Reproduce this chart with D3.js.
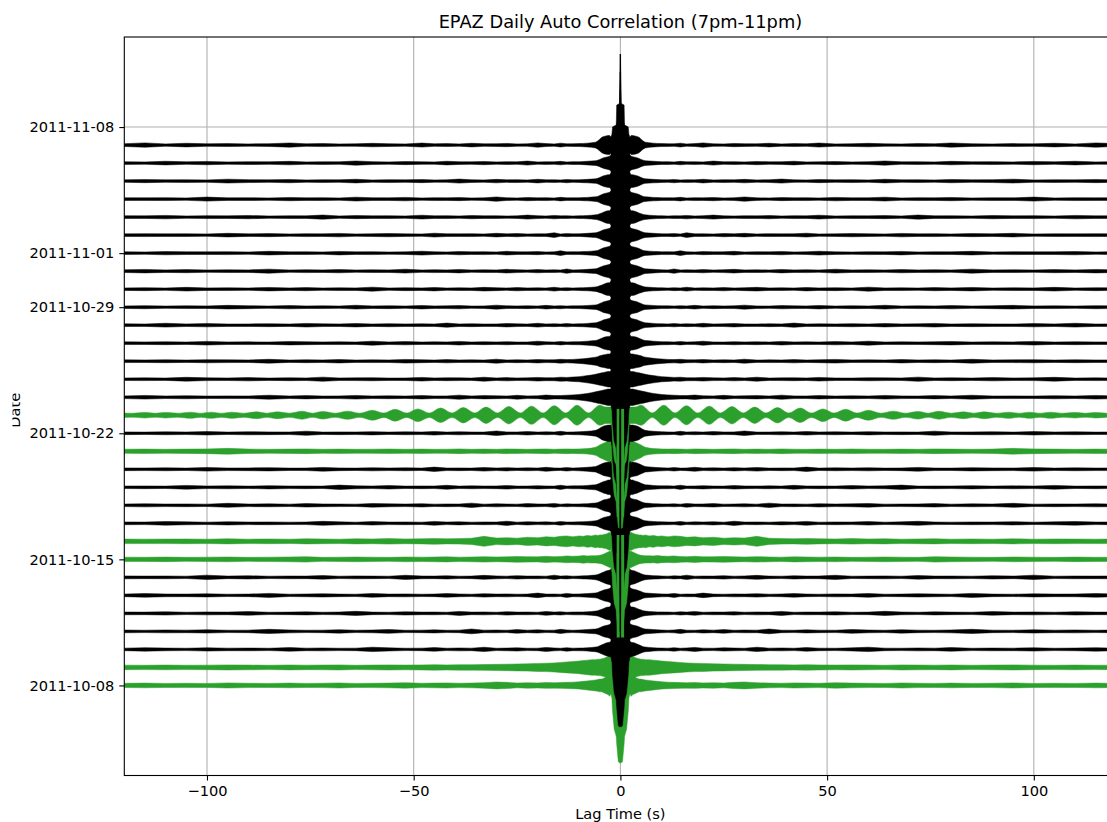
<!DOCTYPE html>
<html>
<head>
<meta charset="utf-8">
<script src="https://cdn.jsdelivr.net/npm/d3@7"></script>
<style>
  body { margin: 0; background: #fff; }
  svg { display: block; font-family: "DejaVu Sans", sans-serif; }
  .grid line { stroke: #b0b0b0; stroke-width: 1.1; }
  .axis path { display: none; }
  .axis line { stroke: #000; stroke-width: 1.1; }
  .axis text { font-size: 14.6px; fill: #000; font-family: "DejaVu Sans", sans-serif; }
</style>
</head>
<body>
<svg width="1107" height="822"></svg>
<script>
/*
 * data. one trace per day, oldest first.
 * amplitudes are in percent of the zero-lag peak, and the traces are
 * autocorrelations, so only positive lags are stored (they are mirrored)
 */
let days = [
  "2011-10-08", "2011-10-09", "2011-10-10", "2011-10-11", "2011-10-12",
  "2011-10-13", "2011-10-14", "2011-10-15", "2011-10-16", "2011-10-17",
  "2011-10-18", "2011-10-19", "2011-10-20", "2011-10-21", "2011-10-22",
  "2011-10-23", "2011-10-24", "2011-10-25", "2011-10-26", "2011-10-27",
  "2011-10-28", "2011-10-29", "2011-10-30", "2011-10-31", "2011-11-01",
  "2011-11-02", "2011-11-03", "2011-11-04", "2011-11-05", "2011-11-06",
  "2011-11-07"
];

// days drawn in green
let greenDays = ["2011-10-08", "2011-10-09", "2011-10-15", "2011-10-16", "2011-10-21", "2011-10-23"];

let dateTicks = ["2011-10-08", "2011-10-15", "2011-10-22", "2011-10-29", "2011-11-01", "2011-11-08"];
let lagTicks = [-100, -50, 0, 50, 100];

// the central peak, shared by all days
let coreLags = [0, 0.2, 0.5, 0.9, 1.0, 1.5, 1.9, 2.05, 2.3];
let coreUp   = [100, 46, 45, 44, 22, 21, 20, 12, 9];
let coreDown = [85, 85, 84, 64, 56, 48, 28, 14, 9];

// envelope of the coda / noise, sampled at these lags (s)
let noiseLags = [2.6, 3, 3.5, 4, 4.5, 5, 5.5, 6, 7, 8, 9, 10, 11.5, 13, 14.5, 16,
  18, 20, 22.5, 25, 27.5, 30, 33, 36, 39, 42, 45, 48, 52, 56, 60, 64, 68, 72, 76,
  80, 85, 90, 95, 100, 105, 110, 115, 120];

let noiseEnv = [
  // 2011-10-08
  [12, 10, 9, 8, 7, 7, 6.5, 6, 5.5, 5, 4.5, 4, 3.6, 3.4, 3.2, 3, 3.2, 2.8, 3, 2.6, 3.4, 3.8, 3, 2.6, 2.4, 2.8, 2.6, 2.4, 3, 2.6, 2.4, 2.2, 2.8, 2.4, 2.2, 2.6, 2.2, 2.4, 2.8, 2.2, 2.4, 2.2, 2.6, 2.3],
  // 2011-10-09
  [13, 12, 11, 10, 9.5, 9, 9, 8.5, 8.5, 8, 7.5, 7, 6.5, 6, 5.5, 5, 4.6, 4.4, 4, 3.8, 3.6, 3.4, 3.2, 3, 3, 2.8, 3, 2.8, 2.6, 2.8, 2.6, 2.4, 2.8, 2.6, 2.5, 2.7, 2.4, 2.6, 2.8, 2.5, 2.4, 2.6, 2.4, 2.5],
  // 2011-10-10
  [8, 7.5, 7, 6, 5, 4, 3, 2.6, 2.2, 1.8, 1.6, 1.5, 1.4, 1.9, 1.3, 1.6, 2.2, 1.4, 1.3, 1.8, 1.5, 1.3, 2.4, 1.4, 1.6, 1.3, 2.0, 1.4, 1.3, 1.7, 2.4, 1.4, 1.3, 1.6, 1.4, 2.0, 1.3, 1.5, 1.4, 1.8, 1.3, 1.5, 1.9, 1.4],
  // 2011-10-11
  [7.5, 7, 6.5, 6, 5, 4, 3.2, 2.6, 2.4, 2.0, 1.7, 1.5, 1.3, 1.6, 2.3, 1.4, 1.3, 1.8, 1.4, 2.0, 1.3, 1.5, 1.4, 2.6, 1.4, 1.3, 1.7, 1.4, 1.3, 2.1, 1.5, 1.3, 1.9, 1.4, 1.3, 1.6, 2.3, 1.4, 1.3, 1.8, 1.4, 1.6, 1.3, 1.5],
  // 2011-10-12
  [7, 7, 6.5, 5.5, 4.5, 3.8, 3, 2.5, 2.1, 1.8, 1.6, 1.6, 1.5, 1.3, 1.8, 1.4, 2.1, 1.3, 1.5, 1.4, 1.9, 1.3, 1.6, 1.4, 2.2, 1.3, 1.5, 1.4, 1.8, 1.3, 1.4, 2.3, 1.5, 1.3, 1.7, 1.4, 1.3, 2.0, 1.4, 1.6, 1.3, 1.8, 1.4, 1.5],
  // 2011-10-13
  [7.5, 7, 6.5, 6, 5, 4.2, 3.2, 2.7, 2.3, 2.0, 1.8, 1.6, 1.4, 2.2, 1.3, 1.5, 1.4, 2.5, 1.4, 1.3, 1.6, 1.4, 1.9, 1.3, 1.5, 2.0, 1.4, 1.3, 1.6, 1.4, 2.1, 1.3, 1.4, 1.8, 1.5, 1.3, 2.2, 1.4, 1.3, 1.7, 1.4, 1.5, 2.0, 1.4],
  // 2011-10-14
  [8, 7.5, 7, 6, 5, 4, 3.2, 2.6, 2.2, 1.9, 1.7, 1.5, 1.3, 1.7, 1.4, 2.4, 1.3, 1.5, 1.4, 1.9, 1.3, 1.6, 2.2, 1.4, 1.3, 1.8, 1.4, 1.5, 2.3, 1.3, 1.4, 1.6, 1.3, 2.0, 1.4, 1.5, 1.3, 1.8, 1.4, 2.4, 1.3, 1.5, 1.4, 1.6],
  // 2011-10-15
  [9, 8, 7, 6, 5, 4.5, 4.2, 4, 4, 3.8, 4.2, 3.6, 3.4, 3.8, 3.2, 3, 3.4, 2.8, 3, 3.2, 2.8, 2.6, 3, 2.6, 2.4, 2.8, 2.6, 2.4, 2.6, 2.2, 2.4, 2.6, 2.4, 2.2, 3, 2.6, 2.4, 2.2, 2.6, 2.4, 2.2, 2.5, 2.3, 2.4],
  // 2011-10-16
  [10, 9, 8, 7.5, 7, 7, 6.5, 7, 6, 6.5, 5.5, 6, 5, 6, 5.5, 4.5, 5, 4, 4.5, 3.5, 4, 3.6, 5.5, 3.4, 3, 2.8, 3.2, 2.8, 2.6, 3, 2.6, 2.8, 2.4, 2.6, 2.8, 2.4, 2.6, 2.4, 2.8, 2.4, 2.6, 2.5, 2.4, 2.5],
  // 2011-10-17
  [8, 7.5, 7, 6.5, 5.5, 4.5, 3.4, 2.8, 2.4, 2.0, 1.8, 1.6, 1.5, 1.4, 2.0, 1.3, 1.6, 1.4, 1.8, 1.3, 2.3, 1.4, 1.5, 1.3, 1.7, 1.4, 2.1, 1.3, 1.5, 1.4, 1.9, 1.3, 1.6, 2.2, 1.4, 1.3, 1.5, 1.4, 1.8, 1.3, 1.6, 2.0, 1.4, 1.5],
  // 2011-10-18
  [7.5, 7, 6.5, 6, 5, 4, 3, 2.5, 2.2, 1.8, 1.6, 1.5, 1.4, 1.6, 1.3, 2.1, 1.4, 1.5, 1.9, 1.3, 1.4, 1.7, 1.3, 2.4, 1.4, 1.5, 1.3, 1.8, 1.4, 1.6, 2.0, 1.3, 1.4, 1.5, 1.9, 1.3, 1.6, 1.4, 2.2, 1.3, 1.5, 1.4, 1.7, 1.4],
  // 2011-10-19
  [8, 8, 7, 6.5, 5.5, 4.5, 3.5, 2.8, 2.4, 2.1, 1.8, 1.6, 1.6, 1.4, 2.3, 1.3, 1.5, 1.8, 1.4, 1.3, 2.0, 1.5, 1.4, 1.6, 1.3, 2.2, 1.4, 1.5, 1.3, 1.9, 1.4, 1.6, 2.4, 1.3, 1.5, 1.4, 1.8, 1.3, 1.6, 1.4, 2.1, 1.3, 1.5, 1.4],
  // 2011-10-20
  [8.5, 8, 7.5, 7, 6, 5, 4, 3, 2.6, 2.2, 1.9, 1.7, 1.4, 1.9, 1.3, 1.5, 2.2, 1.4, 1.6, 1.3, 1.8, 1.4, 2.0, 1.3, 1.5, 1.4, 2.4, 1.3, 1.6, 1.4, 1.7, 1.3, 1.5, 2.1, 1.4, 1.3, 1.8, 1.5, 1.4, 2.0, 1.3, 1.6, 1.4, 1.5],
  // 2011-10-21
  [12, 11, 10, 9, 8, 7, 5.5, 4.5, 3.5, 3, 2.8, 2.6, 2.4, 2.6, 2.4, 2.2, 2.6, 2.4, 2.2, 2.4, 2.6, 2.2, 2.4, 2.2, 2.6, 2.3, 2.2, 2.4, 2.2, 2.5, 2.3, 2.2, 2.4, 2.2, 2.6, 2.4, 2.2, 2.4, 3.2, 2.6, 2.4, 2.2, 2.4, 2.3],
  // 2011-10-22
  [9, 9, 8.5, 8, 7, 5.5, 4.2, 3.2, 2.6, 2.2, 1.9, 1.7, 1.5, 1.3, 2.2, 1.4, 1.6, 1.3, 1.9, 1.4, 1.5, 2.5, 1.3, 1.4, 1.7, 1.3, 2.0, 1.4, 1.6, 1.3, 1.8, 1.4, 1.5, 1.3, 2.3, 1.4, 1.5, 1.7, 1.3, 1.9, 1.4, 1.6, 1.3, 1.5],
  // 2011-10-23 (uses blobLags / blobAmps)
  null,
  // 2011-10-24
  [9, 9, 8.5, 8, 7.5, 7, 6.5, 6, 5, 4.2, 3.6, 3.0, 2.6, 2.2, 1.9, 1.8, 2.4, 1.6, 1.5, 2.1, 1.4, 1.6, 1.8, 1.4, 2.3, 1.5, 1.4, 1.9, 1.3, 1.6, 1.4, 2.0, 1.5, 1.3, 1.8, 1.4, 2.2, 1.4, 1.5, 1.3, 1.7, 1.4, 2.0, 1.5],
  // 2011-10-25
  [8.5, 8.5, 8, 7.5, 7, 6.5, 6, 5.5, 4.6, 4.0, 3.4, 2.8, 2.4, 2.0, 2.2, 1.7, 1.6, 2.0, 1.5, 1.4, 1.8, 1.4, 2.2, 1.3, 1.5, 1.6, 1.4, 2.0, 1.4, 1.3, 1.7, 1.5, 1.4, 2.3, 1.4, 1.6, 1.3, 1.8, 1.4, 1.5, 2.1, 1.3, 1.5, 1.4],
  // 2011-10-26
  [8, 8, 7.5, 7, 6.5, 6, 5, 4.5, 3.8, 3.2, 2.8, 2.4, 2.0, 1.8, 2.1, 1.6, 1.5, 1.9, 1.4, 1.6, 1.4, 2.2, 1.3, 1.5, 1.4, 1.8, 1.3, 1.6, 2.0, 1.4, 1.5, 1.3, 1.9, 1.4, 1.6, 1.3, 2.1, 1.4, 1.5, 1.7, 1.3, 1.6, 1.4, 1.5],
  // 2011-10-27
  [7.5, 7.5, 7, 6.5, 5.5, 4.5, 3.6, 3, 2.6, 2.2, 1.9, 1.7, 1.6, 1.4, 1.9, 1.3, 1.5, 2.2, 1.4, 1.3, 1.7, 1.4, 1.6, 1.3, 2.0, 1.4, 1.5, 1.3, 1.8, 1.4, 2.2, 1.3, 1.5, 1.4, 1.6, 1.9, 1.3, 1.5, 1.4, 2.0, 1.3, 1.6, 1.4, 1.5],
  // 2011-10-28
  [7.5, 7, 6.5, 6, 5, 4, 3.2, 2.6, 2.3, 2.0, 1.7, 1.6, 1.4, 1.8, 1.3, 1.6, 1.4, 2.1, 1.3, 1.5, 1.9, 1.4, 1.3, 1.6, 1.4, 2.3, 1.3, 1.5, 1.4, 1.7, 1.3, 1.9, 1.4, 1.5, 2.0, 1.3, 1.6, 1.4, 1.3, 1.8, 1.4, 2.1, 1.3, 1.5],
  // 2011-10-29
  [7.5, 7, 6.5, 6, 5, 4, 3, 2.5, 2.2, 1.9, 1.7, 1.5, 1.5, 1.3, 1.7, 1.4, 2.0, 1.3, 1.6, 1.4, 1.5, 2.2, 1.4, 1.3, 1.8, 1.5, 1.4, 1.9, 1.3, 1.6, 1.4, 2.1, 1.3, 1.5, 1.4, 1.8, 1.3, 1.6, 2.0, 1.4, 1.5, 1.3, 1.7, 1.4],
  // 2011-10-30
  [7, 7, 6.5, 5.5, 4.5, 3.8, 3, 2.5, 2.1, 1.8, 1.6, 1.5, 1.3, 1.6, 1.4, 2.1, 1.3, 1.5, 1.4, 1.8, 1.3, 1.6, 2.0, 1.4, 1.5, 1.3, 1.9, 1.4, 1.6, 1.3, 2.2, 1.4, 1.5, 1.3, 1.7, 1.4, 1.9, 1.3, 1.5, 1.4, 2.0, 1.3, 1.6, 1.4],
  // 2011-10-31
  [7.5, 7, 6.5, 6, 5, 4.2, 3.2, 2.6, 2.3, 2.0, 1.7, 1.5, 1.4, 2.4, 1.3, 1.5, 1.4, 1.8, 1.3, 1.6, 2.0, 1.4, 1.5, 1.3, 1.9, 1.4, 1.6, 1.3, 2.1, 1.4, 1.5, 1.3, 1.8, 1.4, 1.6, 1.3, 2.2, 1.4, 1.5, 1.3, 1.7, 1.4, 1.9, 1.5],
  // 2011-11-01
  [7.5, 7, 6.5, 6, 5, 4, 3, 2.5, 2.2, 1.9, 1.7, 1.5, 1.6, 1.4, 2.6, 1.5, 1.3, 1.7, 1.4, 1.5, 2.0, 1.3, 1.6, 1.4, 1.8, 1.3, 1.5, 2.1, 1.4, 1.3, 1.6, 1.4, 1.9, 1.3, 1.5, 1.4, 2.0, 1.3, 1.6, 1.4, 1.5, 1.8, 1.3, 1.5],
  // 2011-11-02
  [7.5, 7, 6.5, 6, 5, 4, 3.2, 2.6, 2.3, 2.0, 1.7, 1.5, 1.4, 1.7, 1.3, 2.6, 1.4, 1.5, 1.3, 1.8, 1.4, 2.0, 1.3, 1.6, 1.4, 1.5, 2.1, 1.3, 1.4, 1.8, 1.5, 1.3, 1.9, 1.4, 1.6, 1.3, 1.7, 1.4, 2.0, 1.3, 1.5, 1.4, 1.6, 1.4],
  // 2011-11-03
  [7, 7, 6.5, 5.5, 4.5, 3.8, 3, 2.5, 2.1, 1.8, 1.6, 1.5, 1.3, 1.5, 1.4, 1.9, 1.3, 1.6, 2.2, 1.4, 1.3, 1.5, 1.4, 1.8, 1.3, 1.6, 1.4, 2.1, 1.3, 1.5, 1.4, 1.7, 1.3, 2.3, 1.4, 1.5, 1.3, 1.8, 1.4, 1.6, 1.3, 1.9, 1.4, 1.5],
  // 2011-11-04
  [7.5, 7, 6.5, 6, 5, 4, 3, 2.6, 2.2, 1.9, 1.7, 1.5, 1.5, 1.4, 2.0, 1.3, 1.6, 1.4, 1.8, 1.3, 1.5, 2.4, 1.4, 1.3, 1.7, 1.4, 1.6, 1.3, 1.9, 1.4, 1.5, 2.1, 1.3, 1.6, 1.4, 1.8, 1.3, 1.5, 1.4, 2.2, 1.3, 1.6, 1.4, 1.5],
  // 2011-11-05
  [7, 7, 6.5, 6, 5, 4, 3, 2.5, 2.2, 1.9, 1.7, 1.5, 1.4, 1.8, 1.3, 1.5, 1.4, 2.0, 1.3, 1.6, 1.4, 1.9, 1.3, 1.5, 2.2, 1.4, 1.3, 1.7, 1.4, 1.6, 1.3, 2.0, 1.4, 1.5, 1.3, 1.8, 1.4, 1.6, 2.1, 1.3, 1.5, 1.4, 1.7, 1.4],
  // 2011-11-06
  [7.5, 7, 6.5, 6, 5, 4, 3.2, 2.6, 2.3, 2.0, 1.7, 1.5, 1.6, 1.3, 1.9, 1.4, 1.5, 1.3, 2.2, 1.4, 1.6, 1.3, 1.8, 1.4, 1.5, 2.0, 1.3, 1.4, 1.7, 1.3, 1.6, 2.3, 1.4, 1.5, 1.3, 1.9, 1.4, 1.6, 1.3, 1.8, 1.4, 2.0, 1.3, 1.5],
  // 2011-11-07
  [10.5, 10.5, 10, 9.5, 8.5, 6.5, 4.5, 3.2, 2.5, 2.1, 1.8, 1.6, 1.5, 1.4, 2.1, 1.3, 1.6, 2.4, 1.4, 1.3, 1.8, 1.5, 1.4, 2.0, 1.3, 1.6, 1.4, 2.2, 1.3, 1.5, 1.9, 1.4, 1.3, 1.7, 1.4, 2.3, 1.5, 1.3, 1.6, 1.4, 2.0, 1.3, 2.4, 1.5]
];

// 2011-10-23 beats, so it gets its own finer sampling
let blobLags = [2.6, 3.5, 5, 7.7, 10.5, 13.2, 16, 18.7, 21.5, 24.2, 27, 29.7, 32.5,
  35.2, 38, 40.7, 43.5, 46.2, 49, 51.7, 54.5, 57.2, 60, 63, 66, 69, 72, 74.5, 77,
  80, 83, 85.5, 88, 91, 94, 96.5, 99, 101.5, 104, 107, 110, 112.5, 115, 118, 120];
let blobAmps = [9, 9, 11, 2.6, 11, 2.6, 10.5, 2.6, 10, 2.6, 9.5, 2.5, 9, 2.5, 8.5,
  2.5, 8, 2.4, 7, 2.4, 6.5, 2.4, 5.5, 2.3, 4.5, 2.3, 4.2, 2.3, 4.4, 2.3, 3.8, 2.3,
  3.8, 2.2, 3.4, 2.2, 3.4, 2.2, 3.4, 2.2, 3, 2.2, 3, 2.2, 2.4];

// green negative lobes that show through the black column
let lobeDays = ["2011-10-15", "2011-10-16", "2011-10-21", "2011-10-23"];
let lobeDepth = [86, 72, 72, 72];
let lobeHalfWidth = 0.9; // s

let svg = d3.select("body").select("svg");
console.assert(svg.size() == 1);

const DAY = 864e5;
let utc = s => new Date(s + "T00:00:00Z");

let plotLeft = 124.3, plotRight = 1116.5, plotTop = 37, plotBottom = 775.5;

let lagScale = d3.scaleLinear()
  .domain([-120, 120])
  .range([plotLeft, plotRight]);

let dateScale = d3.scaleUtc()
  .domain([utc("2011-10-03"), utc("2011-11-13")])
  .range([plotBottom, plotTop]);

// 100% of the zero-lag peak spans this many days on the y axis
let ampDays = 5.05;
let yAt = (day, amp) => dateScale(new Date(+utc(day) + amp / 100 * ampDays * DAY));

let green = "#2ca02c";
let colorOf = day => greenDays.includes(day) ? green : "#000";

/* grid */
let grid = svg.append("g").attr("class", "grid");
grid.selectAll("line.v")
  .data(lagTicks)
  .enter().append("line")
  .attr("class", "v")
  .attr("x1", d => lagScale(d)).attr("x2", d => lagScale(d))
  .attr("y1", plotTop).attr("y2", plotBottom);
grid.selectAll("line.h")
  .data(dateTicks)
  .enter().append("line")
  .attr("class", "h")
  .attr("x1", plotLeft).attr("x2", plotRight)
  .attr("y1", d => dateScale(utc(d))).attr("y2", d => dateScale(utc(d)));

/* traces */
let defs = svg.append("defs");
defs.append("clipPath").attr("id", "clip")
  .append("rect")
  .attr("x", plotLeft).attr("y", plotTop)
  .attr("width", plotRight - plotLeft).attr("height", plotBottom - plotTop);
// the y label is half hidden in the reference
defs.append("clipPath").attr("id", "clip-ylabel")
  .append("rect")
  .attr("x", 12.5).attr("y", 0)
  .attr("width", 40).attr("height", 822);

let plot = svg.append("g").attr("id", "plot").attr("clip-path", "url(#clip)");

// mirror the positive lags into a full envelope
let envelope = function(i) {
  let special = days[i] == "2011-10-23";
  let lags = coreLags.concat(special ? blobLags : noiseLags);
  let amps = special ? blobAmps : noiseEnv[i];
  let up = coreUp.concat(amps);
  let down = coreDown.concat(amps);
  let pts = [];
  for (let k = lags.length - 1; k > 0; k--) pts.push({lag: -lags[k], up: up[k], down: down[k]});
  for (let k = 0; k < lags.length; k++) pts.push({lag: lags[k], up: up[k], down: down[k]});
  return pts;
};

plot.selectAll("path.trace")
  .data(days)
  .enter().append("path")
  .attr("class", "trace")
  .attr("fill", d => colorOf(d))
  .attr("stroke", d => colorOf(d))
  .attr("stroke-width", 0.5)
  .attr("stroke-linejoin", "round")
  .attr("d", (day, i) => d3.area()
    .curve(day == "2011-10-23" ? d3.curveMonotoneX : d3.curveLinear)
    .x(p => lagScale(p.lag))
    .y0(p => yAt(day, -p.down))
    .y1(p => yAt(day, p.up))(envelope(i)));

// green lobes seen inside the column
plot.selectAll("path.lobe")
  .data(lobeDays)
  .enter().append("path")
  .attr("class", "lobe")
  .attr("fill", green)
  .attr("d", (day, i) => d3.area()
    .x(l => lagScale(l))
    .y0(() => yAt(day, -lobeDepth[i]))
    .y1(() => yAt(day, 7))([-lobeHalfWidth, lobeHalfWidth]));

// zero-lag spikes of the black days on top
plot.selectAll("line.spike")
  .data(days.filter(d => !greenDays.includes(d)))
  .enter().append("line")
  .attr("class", "spike")
  .attr("stroke", "#000")
  .attr("stroke-width", 1.3)
  .attr("x1", lagScale(0)).attr("x2", lagScale(0))
  .attr("y1", d => yAt(d, 0)).attr("y2", d => yAt(d, coreUp[0]));

/* axes */
let xAxis = d3.axisBottom(lagScale)
  .tickValues(lagTicks)
  .tickSize(5)
  .tickPadding(5)
  .tickFormat(d => d < 0 ? "\u2212" + Math.abs(d) : d);
svg.append("g").attr("class", "axis")
  .attr("transform", "translate(0," + plotBottom + ")")
  .call(xAxis);

let yAxis = d3.axisLeft(dateScale)
  .tickValues(dateTicks.map(utc))
  .tickSize(5)
  .tickPadding(5)
  .tickFormat(d3.utcFormat("%Y-%m-%d"));
svg.append("g").attr("class", "axis")
  .attr("transform", "translate(" + plotLeft + ",0)")
  .call(yAxis);

// spines
svg.append("rect")
  .attr("x", plotLeft).attr("y", plotTop)
  .attr("width", plotRight - plotLeft).attr("height", plotBottom - plotTop)
  .attr("fill", "none").attr("stroke", "#000").attr("stroke-width", 1.1);

/* labels */
svg.append("text")
  .attr("x", (plotLeft + plotRight) / 2)
  .attr("y", 27.5)
  .attr("text-anchor", "middle")
  .style("font-size", "17.8px")
  .text("EPAZ Daily Auto Correlation (7pm-11pm)");

svg.append("text")
  .attr("x", (plotLeft + plotRight) / 2)
  .attr("y", 819)
  .attr("text-anchor", "middle")
  .style("font-size", "14.6px")
  .text("Lag Time (s)");

svg.append("g").attr("clip-path", "url(#clip-ylabel)")
  .append("text")
  .attr("transform", "translate(20," + ((plotTop + plotBottom) / 2 + 4) + ")rotate(-90)")
  .attr("text-anchor", "middle")
  .style("font-size", "14.6px")
  .text("Date");
</script>
</body>
</html>
